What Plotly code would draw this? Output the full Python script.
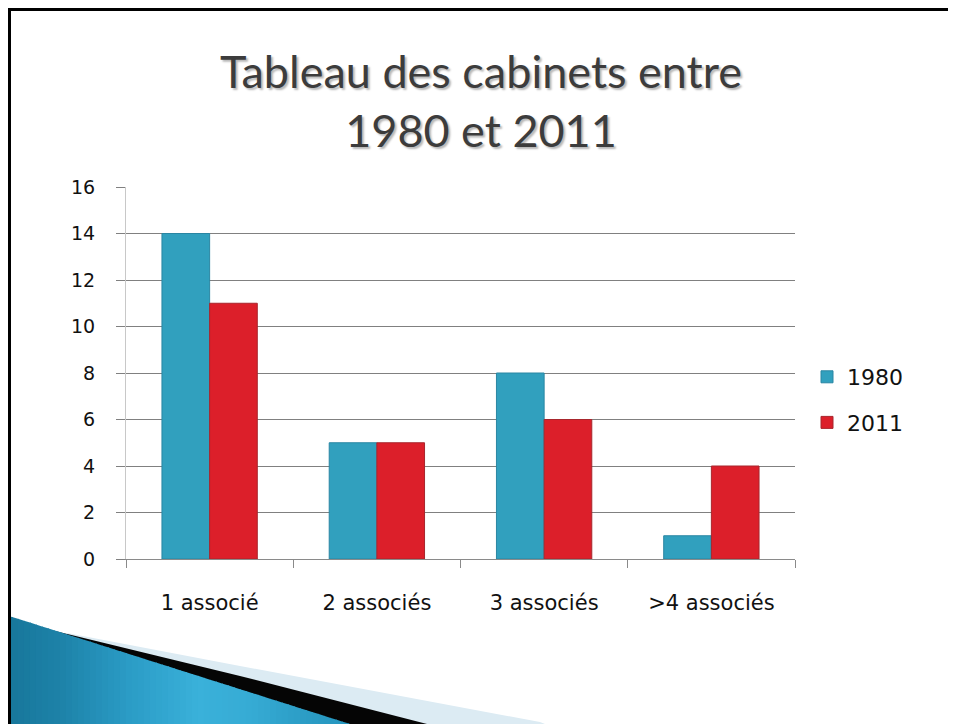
import plotly.graph_objects as go

categories = ["1 associé", "2 associés", "3 associés", ">4 associés"]
series_1980 = [14, 5, 8, 1]
series_2011 = [11, 5, 6, 4]
y_ticks = [0, 2, 4, 6, 8, 10, 12, 14, 16]

# page offset of the plotly div (default body margin)
OFF = 8
W, H = 956 - OFF, 724 - OFF
# plot area in page pixels
L, R, T, B = 126, 795, 187, 559
pw, ph = R - L, B - T


def px(x):
    return (x - L) / pw


def py(y):
    return (B - y) / ph


TITLE_FONT = "Lato"
FONT = "DejaVu Sans"

fig = go.Figure()
fig.add_trace(go.Bar(name="1980", x=categories, y=series_1980, legendgroup="a",
                     marker=dict(color="#31a0be", line=dict(color="#2a86a3", width=1))))
fig.add_trace(go.Bar(name="2011", x=categories, y=series_2011, legendgroup="b",
                     marker=dict(color="#dc1f2a", line=dict(color="#a8262d", width=1))))


def path(pts):
    return "M " + " L ".join(f"{px(x):.5f},{py(y):.5f}" for x, y in pts) + " Z"


shapes = []
# decorative swoosh (page pixel outline)
shapes.append(dict(type="path", xref="paper", yref="paper", layer="below",
                   path=path([(67, 633), (240, 666), (540, 722), (560, 730), (67, 730)]),
                   fillcolor="#dcebf3", line=dict(width=0)))
shapes.append(dict(type="path", xref="paper", yref="paper", layer="below",
                   path=path([(55, 631), (240, 676), (427, 724), (430, 730), (55, 730)]),
                   fillcolor="#050505", line=dict(width=0)))


def blue_top(x):
    return 615 + (724 - 615) * (x - 6) / (350 - 6)


def hex2rgb(h):
    return tuple(int(h[i:i + 2], 16) for i in (1, 3, 5))


stops = [(6, "#17769a"), (60, "#1d82a8"), (130, "#2b9cc6"), (200, "#3ab1da"),
         (250, "#36abd4"), (300, "#2c9ec7"), (352, "#2495bd")]
step = 6
x = 6
while x < 351:
    xe = min(x + step, 351)
    xm = (x + xe) / 2
    for (a, ca), (b, cb) in zip(stops[:-1], stops[1:]):
        if a <= xm <= b:
            t = (xm - a) / (b - a)
            r0, g0, b0 = hex2rgb(ca)
            r1, g1, b1 = hex2rgb(cb)
            col = f"rgb({round(r0 + (r1 - r0) * t)},{round(g0 + (g1 - g0) * t)},{round(b0 + (b1 - b0) * t)})"
            break
    shapes.append(dict(type="path", xref="paper", yref="paper", layer="below",
                       path=path([(x, blue_top(x)), (xe + 0.8, blue_top(xe + 0.8)),
                                  (xe + 0.8, 730), (x, 730)]),
                       fillcolor=col, line=dict(width=0)))
    x = xe
# slide border
shapes.append(dict(type="rect", xref="paper", yref="paper", layer="above",
                   x0=px(9.5), y0=py(760), x1=px(1000), y1=py(9.5),
                   line=dict(color="#000000", width=3), fillcolor="rgba(0,0,0,0)"))

fig.update_layout(
    width=W, height=H,
    margin=dict(l=L - OFF, r=W - (R - OFF), t=T - OFF, b=H - (B - OFF), autoexpand=False),
    paper_bgcolor="white", plot_bgcolor="white",
    barmode="group", bargap=0.43, bargroupgap=0,
    font=dict(family=FONT, color="#000000"),
    title=dict(text="Tableau des cabinets entre<br>1980 et 2011",
               x=(481 - OFF) / W, xanchor="center", xref="container",
               y=1 - 80 / H, yanchor="middle",
               font=dict(size=45, color="#3c3c3c", family=TITLE_FONT,
                         shadow="2px 2px 2px #b8b8b8")),
    xaxis=dict(showgrid=False, showline=True, linecolor="#8a8a8a", linewidth=1,
               ticks="outside", tickson="boundaries", ticklen=8, tickcolor="#8a8a8a",
               tickfont=dict(size=21, family=FONT, color="#111111"),
               ticklabelstandoff=25),
    yaxis=dict(range=[0, 16], tickvals=y_ticks, showgrid=True, gridcolor="#808080",
               gridwidth=1, showline=True, linecolor="#c8c8c8", linewidth=1,
               ticks="outside", ticklen=9, tickcolor="#808080",
               tickfont=dict(size=19, family=FONT, color="#111111"),
               ticklabelstandoff=17, zeroline=False),
    legend=dict(x=px(807), xanchor="left", y=py(400), yanchor="middle",
                font=dict(size=22, family=FONT, color="#111111"),
                itemwidth=30, tracegroupgap=14, bgcolor="rgba(0,0,0,0)"),
    shapes=shapes,
)

fig.write_html("out.html")
